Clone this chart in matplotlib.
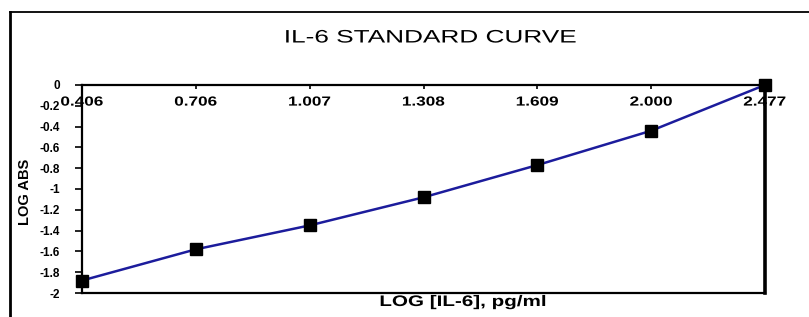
from matplotlib import pyplot as plt
from matplotlib.lines import Line2D
from matplotlib.patheffects import AbstractPathEffect
from matplotlib.transforms import Affine2D
import numpy as np

# standard curve values
x_labels = ['0.406', '0.706', '1.007', '1.308', '1.609', '2.000', '2.477']
log_abs = [-1.88, -1.58, -1.35, -1.08, -0.77, -0.44, 0.0]
y_ticks = [0, -0.2, -0.4, -0.6, -0.8, -1, -1.2, -1.4, -1.6, -1.8, -2]
y_tick_labels = ['0', '-0.2', '-0.4', '-0.6', '-0.8', '-1', '-1.2', '-1.4', '-1.6', '-1.8', '-2']


class HStretch(AbstractPathEffect):
    # the scanned chart has wide, horizontally stretched lettering
    def __init__(self, sx):
        super().__init__()
        self.sx = sx

    def draw_path(self, renderer, gc, tpath, affine, rgbFace=None):
        ext = tpath.get_extents()
        cx = (ext.x0 + ext.x1) / 2
        pre = Affine2D().translate(-cx, 0).scale(self.sx, 1).translate(cx, 0)
        renderer.draw_path(gc, tpath, pre + affine, rgbFace)


plt.rcParams['font.family'] = ['Liberation Sans', 'DejaVu Sans']

fig = plt.figure(figsize=(8.09, 3.17), dpi=100)
ax = fig.add_axes([0.1014, 0.0757, 0.8442, 0.6562])

pos = np.arange(len(x_labels))
ax.plot(pos, log_abs, color='#1c1c9c', linewidth=1.8, marker='s', markersize=8.5,
        markerfacecolor='black', markeredgecolor='black', clip_on=False, zorder=3)

ax.set_xlim(0, 6)
ax.set_ylim(-2, 0)
ax.set_xticks(pos)
ax.set_xticklabels(x_labels, fontsize=9.5, fontweight='bold')
ax.set_yticks(y_ticks)
ax.set_yticklabels(y_tick_labels, fontsize=8.5, fontweight='bold')

ax.tick_params(axis='x', top=True, labeltop=True, bottom=False, labelbottom=False,
               direction='in', length=3, width=1.2, pad=-17)
ax.tick_params(axis='y', direction='out', length=5, width=1.2, pad=11)

for lab in ax.get_xticklabels():
    lab.set_path_effects([HStretch(1.3)])

for s in ax.spines.values():
    s.set_linewidth(1.6)
ax.spines['right'].set_linewidth(2.6)

fig.text(25 / 809, 1 - 192 / 317, 'LOG ABS', fontsize=10.5, fontweight='bold',
         rotation=90, ha='center', va='center')
xl = fig.text(463 / 809, 1 - 302 / 317, 'LOG [IL-6], pg/ml', fontsize=11, fontweight='bold',
              ha='center', va='center')
xl.set_path_effects([HStretch(1.35)])
tt = fig.text(430 / 809, 1 - 38 / 317, 'IL-6 STANDARD CURVE', fontsize=13,
              ha='center', va='center')
tt.set_path_effects([HStretch(1.45)])

# outer chart frame
fig.add_artist(Line2D([10 / 809, 10 / 809], [0, 1 - 12 / 317], transform=fig.transFigure,
                      color='black', linewidth=2))
fig.add_artist(Line2D([10 / 809, 1], [1 - 12 / 317, 1 - 12 / 317], transform=fig.transFigure,
                      color='black', linewidth=1.3))

plt.savefig('out.png', dpi=100)
